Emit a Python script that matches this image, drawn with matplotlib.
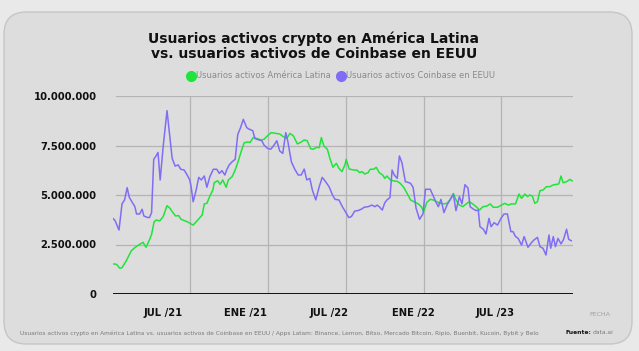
import matplotlib
matplotlib.use("Agg")
import matplotlib.pyplot as plt
from matplotlib.patches import FancyBboxPatch
from matplotlib.lines import Line2D
from matplotlib.ticker import FuncFormatter

# ---- data (x = days since series start, values in millions of users) ----
latam_days = [0, 8, 16, 21, 31, 43, 52, 66, 70, 77, 85, 90, 96, 101, 109, 117, 126, 133, 138, 146,
              153, 159, 173, 187, 198, 208, 213, 219, 226, 233, 236, 244, 250, 256, 264, 269, 278, 285,
              293, 300, 306, 314, 320, 327, 335, 345, 352, 360, 369, 380, 389, 397, 405, 413, 421, 430,
              438, 446, 453, 461, 467, 475, 481, 486, 492, 500, 506, 513, 521, 527, 534, 541, 544, 551,
              562, 569, 575, 581, 587, 595, 600, 608, 614, 621, 629, 634, 639, 647, 655, 663, 670, 678,
              686, 694, 702, 712, 719, 725, 732, 740, 747, 755, 763, 771, 779, 786, 794, 800, 808, 816,
              824, 831, 839, 847, 855, 863, 872, 880, 887, 897, 906, 914, 922, 929, 939, 947, 953, 961,
              967, 972, 978, 984, 990, 996, 1003, 1011, 1019, 1027, 1034, 1040, 1045, 1050, 1058, 1066, 1071]
latam_users = [1.52, 1.50, 1.30, 1.33, 1.68, 2.19, 2.36, 2.56, 2.61, 2.36, 2.73, 3.01, 3.65, 3.74, 3.69,
               3.91, 4.46, 4.33, 4.16, 3.94, 3.96, 3.77, 3.65, 3.48, 3.74, 3.99, 4.55, 4.58, 4.95, 5.25,
               5.62, 5.72, 5.54, 5.76, 5.39, 5.76, 5.93, 6.26, 6.77, 7.27, 7.64, 7.68, 7.66, 7.90, 7.86,
               7.78, 7.81, 7.98, 8.15, 8.11, 8.08, 7.95, 7.86, 8.11, 7.98, 7.58, 7.66, 7.78, 7.74, 7.34,
               7.31, 7.41, 7.39, 7.90, 7.47, 7.31, 6.85, 6.40, 6.60, 6.35, 6.18, 6.52, 6.80, 6.31, 6.26,
               6.26, 6.13, 6.18, 6.06, 6.13, 6.30, 6.30, 6.40, 6.13, 6.01, 5.84, 5.96, 5.76, 5.71, 5.69,
               5.59, 5.39, 5.08, 4.75, 4.66, 4.55, 4.41, 4.16, 4.63, 4.78, 4.75, 4.66, 4.58, 4.55, 4.58,
               4.75, 5.08, 4.75, 4.49, 4.41, 4.55, 4.66, 4.55, 4.41, 4.24, 4.41, 4.44, 4.55, 4.38, 4.38,
               4.49, 4.58, 4.49, 4.55, 4.55, 5.05, 4.83, 5.05, 4.92, 5.00, 4.95, 4.58, 4.66, 5.22, 5.25,
               5.42, 5.42, 5.51, 5.54, 5.56, 5.96, 5.62, 5.67, 5.79, 5.71]

coinbase_days = [0, 5, 14, 21, 27, 33, 38, 44, 51, 55, 62, 68, 72, 80, 85, 90, 95, 101, 105, 110, 117,
                 126, 133, 138, 145, 152, 158, 166, 173, 179, 182, 187, 194, 200, 206, 213, 219, 226, 234,
                 242, 248, 254, 261, 265, 271, 278, 285, 291, 297, 304, 312, 318, 326, 331, 339, 347, 352,
                 360, 368, 376, 382, 389, 396, 403, 408, 416, 424, 432, 439, 446, 452, 459, 465, 473, 481,
                 488, 496, 504, 512, 518, 527, 535, 542, 550, 556, 564, 571, 579, 586, 595, 604, 611, 616,
                 621, 628, 634, 639, 646, 651, 656, 663, 668, 674, 682, 688, 694, 700, 707, 715, 723, 729,
                 740, 747, 754, 759, 765, 772, 779, 786, 794, 800, 808, 814, 821, 828, 833, 841, 847, 852,
                 856, 864, 870, 877, 882, 889, 897, 905, 912, 920, 928, 933, 939, 945, 953, 959, 968, 976,
                 982, 990, 996, 1003, 1010, 1017, 1021, 1027, 1032, 1038, 1045, 1051, 1058, 1063, 1069]
coinbase_users = [3.82, 3.70, 3.23, 4.55, 4.75, 5.37, 4.88, 4.66, 4.41, 4.04, 4.04, 4.28, 3.94, 3.87,
                  3.86, 4.11, 6.80, 6.99, 7.15, 5.76, 7.44, 9.26, 7.86, 6.85, 6.46, 6.52, 6.30, 6.26,
                  6.01, 5.76, 5.45, 4.66, 5.25, 5.89, 5.76, 5.96, 5.39, 5.93, 6.30, 6.30, 6.09, 6.23,
                  6.01, 6.26, 6.52, 6.68, 6.80, 8.06, 8.37, 8.82, 8.40, 8.32, 8.25, 7.85, 7.79, 7.74,
                  7.53, 7.36, 7.31, 7.53, 7.74, 7.22, 7.10, 8.15, 7.69, 6.68, 6.30, 6.01, 6.01, 6.31,
                  5.76, 5.84, 5.25, 4.75, 5.42, 5.89, 5.67, 5.42, 5.00, 4.78, 4.75, 4.41, 4.16, 3.86,
                  3.91, 4.19, 4.21, 4.28, 4.38, 4.41, 4.49, 4.41, 4.49, 4.41, 4.24, 4.61, 4.75, 4.87,
                  6.26, 6.01, 5.84, 6.97, 6.63, 5.67, 5.64, 5.59, 5.39, 4.33, 3.77, 4.04, 5.29, 5.29,
                  4.95, 4.61, 4.41, 4.78, 4.11, 4.49, 4.75, 5.03, 4.21, 4.92, 4.55, 5.52, 5.35, 4.41,
                  4.28, 4.21, 4.24, 3.40, 3.27, 3.03, 3.82, 3.40, 3.60, 3.48, 3.82, 4.04, 4.04, 3.15,
                  3.15, 2.90, 2.81, 2.47, 2.90, 2.36, 2.59, 2.73, 2.86, 2.39, 2.31, 1.97, 2.98, 2.31,
                  2.90, 2.39, 2.81, 2.53, 2.76, 3.27, 2.76, 2.69]

grid_days = [180, 362, 543, 726, 904]
label_days = [117, 310, 504, 700, 891]
tick_labels = ["JUL /21", "ENE /21", "JUL /22", "ENE /22", "JUL /23"]
y_ticks = [0, 2500000, 5000000, 7500000, 10000000]

series_latam = "Usuarios activos América Latina"
series_coinbase = "Usuarios activos Coinbase en EEUU"
title = "Usuarios activos crypto en América Latina\nvs. usuarios activos de Coinbase en EEUU"
footnote = ("Usuarios activos crypto en América Latina vs. usuarios activos de Coinbase en EEUU / "
            "Apps Latam: Binance, Lemon, Bitso, Mercado Bitcoin, Ripio, Buenbit, Kucoin, Bybit y Belo")

GREEN = "#1fe53a"
PURPLE = "#7f6ef5"
CARD = "#dddddd"
OUTER = "#e9e9e9"

fig = plt.figure(figsize=(6.39, 3.51), dpi=100, facecolor=OUTER)

card = FancyBboxPatch((4 / 639, 7 / 351), 628 / 639, 332 / 351,
                      boxstyle="round,pad=0,rounding_size=0.035",
                      transform=fig.transFigure, facecolor=CARD, edgecolor="#c6c6c6",
                      linewidth=1.0, mutation_aspect=639 / 351, zorder=-5)
fig.patches.append(card)

ax = fig.add_axes([113 / 639, 1 - 294 / 351, 460 / 639, 198 / 351])
ax.set_zorder(2)
ax.patch.set_alpha(0)

ax.plot(latam_days, [v * 1e6 for v in latam_users], color=GREEN, lw=1.1, zorder=3)
ax.plot(coinbase_days, [v * 1e6 for v in coinbase_users], color=PURPLE, lw=1.1, zorder=3)

ax.set_xlim(0, 1073)
ax.set_ylim(0, 10000000)
ax.set_yticks(y_ticks)
ax.yaxis.set_major_formatter(FuncFormatter(lambda v, p: f"{int(v):,}".replace(",", ".")))
ax.set_xticks(label_days)
ax.set_xticklabels(tick_labels)
ax.set_xticks(grid_days, minor=True)
ax.tick_params(axis="both", which="both", length=0)
ax.tick_params(axis="x", which="major", pad=10, labelsize=7.2)
ax.tick_params(axis="y", pad=12, labelsize=7.2)
for lab in ax.get_xticklabels() + ax.get_yticklabels():
    lab.set_fontweight("bold")
    lab.set_color("#111111")

ax.grid(False)
for y in y_ticks[1:]:
    ax.axhline(y, xmin=3 / 460, color="#b4b4b4", lw=0.9, zorder=1)
for d in grid_days:
    ax.axvline(d, color="#b4b4b4", lw=0.9, zorder=1)
ax.axhline(0, color="#111111", lw=1.4, zorder=4)
for s in ax.spines.values():
    s.set_visible(False)

fig.text(314 / 639, 1 - 46 / 351, title, ha="center", va="center", fontsize=10,
         fontweight="bold", color="#111111", linespacing=1.1)

handles = [Line2D([], [], marker="o", color="none", markerfacecolor=GREEN, markeredgecolor=GREEN,
                  markersize=7, label=series_latam),
           Line2D([], [], marker="o", color="none", markerfacecolor=PURPLE, markeredgecolor=PURPLE,
                  markersize=7, label=series_coinbase)]
fig.legend(handles=handles, loc="center", bbox_to_anchor=(341 / 639, 1 - 76 / 351), ncol=2,
           frameon=False, fontsize=6, labelcolor="#8a8a8a", handletextpad=0.1,
           columnspacing=0.8, handlelength=1.0)

fig.text(600 / 639, 1 - 314 / 351, "FECHA", ha="center", va="center", fontsize=4.5, color="#a0a0a0")
fig.text(20 / 639, 1 - 333 / 351, footnote, ha="left", va="center", fontsize=4.2, color="#7a7a7a")
fig.text(566 / 639, 1 - 333 / 351, "Fuente:", ha="left", va="center", fontsize=4.3,
         fontweight="bold", color="#111111")
fig.text(593 / 639, 1 - 333 / 351, "data.ai", ha="left", va="center", fontsize=4.3, color="#7a7a7a")

fig.savefig("out.png", dpi=100, facecolor=OUTER)
